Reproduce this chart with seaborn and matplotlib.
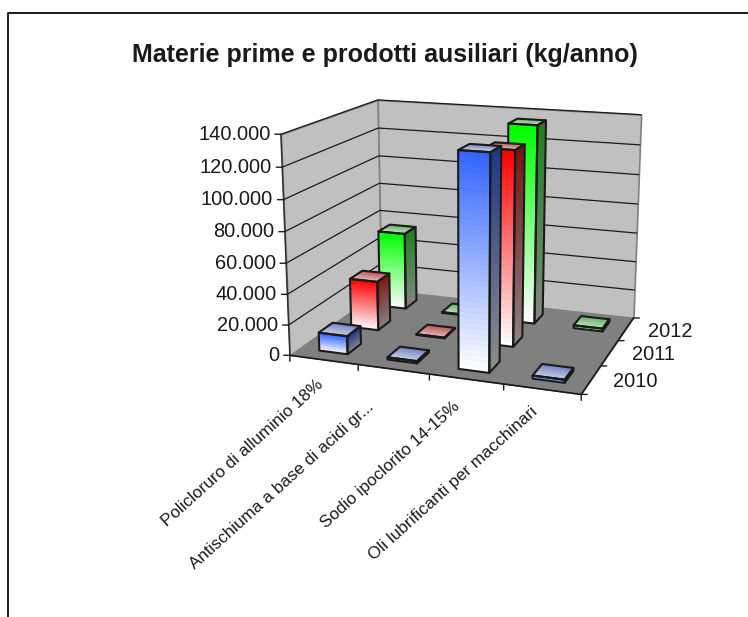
import numpy as np
import pandas as pd
import seaborn as sns
import matplotlib
matplotlib.use("Agg")
import matplotlib.pyplot as plt
from matplotlib.lines import Line2D
from mpl_toolkits.mplot3d.art3d import Poly3DCollection

categories = ["Policloruro di alluminio 18%", "Antischiuma a base di acidi gr...",
              "Sodio ipoclorito 14-15%", "Oli lubrificanti per macchinari"]
years = ["2010", "2011", "2012"]
v2010 = [12000, 1500, 135000, 2000]
v2011 = [33500, 500, 127500, 0]
v2012 = [54000, 500, 135000, 2000]
zticks = [0, 20000, 40000, 60000, 80000, 100000, 120000, 140000]
zlabels = ["0", "20.000", "40.000", "60.000", "80.000", "100.000", "120.000", "140.000"]
title = "Materie prime e prodotti ausiliari (kg/anno)"
ZMAX = 140000

sns.set_theme(style="white")
plt.rcParams["font.family"] = ["Liberation Sans", "DejaVu Sans"]

W, H = 748, 617
fig = plt.figure(figsize=(W / 100, H / 100), dpi=100)
ax = fig.add_axes([255.55 / W, 170.88 / H, 416.17 / W, 416.17 / H], projection="3d", computed_zorder=False)
ax.set_xlim(0, 4, view_margin=0)
ax.set_ylim(0, 3, view_margin=0)
ax.set_zlim(0, ZMAX, view_margin=0)
ax.view_init(elev=14.991, azim=-70.4331, roll=-0.0232)
ax.set_proj_type("persp", focal_length=float(np.exp(-0.6254)))
ax.set_box_aspect((1, 0.7608, 0.7474))
ax.set_axis_off()
ax.patch.set_visible(False)

table = pd.DataFrame({"2010": v2010, "2011": v2011, "2012": v2012}, index=categories)

# top colour of each series: front face, side face, and the two ends of the lid
series_style = {
    "2010": dict(front=("#3366FF", "#FFFFFF"), side=("#1F3A85", "#8C8C8C"), lid=("#6E80C8", "#C8CCE0")),
    "2011": dict(front=("#FF0000", "#FFFFFF"), side=("#7A1414", "#8C8080"), lid=("#C05050", "#E0B8B8")),
    "2012": dict(front=("#00FF00", "#FFFFFF"), side=("#1F7F1F", "#80887F"), lid=("#60B060", "#C0DCC0")),
}
BAR = 0.42
N = 40
CLEAR = (0, 0, 0, 0)

# pixel offsets of the slanted category labels from their slots
label_dx = [-8, -27, -14, -12]
label_dy = [-17, -30, -20, -15]


def quad(pts, **kw):
    return ax.add_collection3d(Poly3DCollection([pts], **kw), autolim=False)


def to_points(px):
    return px * 72 / fig.dpi


def anchor(x, y, z):
    M = ax.get_proj()
    h = M @ np.array([x, y, z, 1.0])
    return h[:2] / h[3]


def tick(x, y, z, dx, dy, lw=1.0):
    ax.annotate("", xy=anchor(x, y, z), xycoords="data",
                xytext=(to_points(dx), to_points(dy)), textcoords="offset points",
                arrowprops=dict(arrowstyle="-", lw=lw, color="k", shrinkA=0, shrinkB=0), zorder=4)


def label(s, x, y, z, dx, dy, **kw):
    ax.annotate(s, xy=anchor(x, y, z), xycoords="data",
                xytext=(to_points(dx), to_points(dy)), textcoords="offset points",
                color="k", annotation_clip=False, zorder=5, **kw)


def draw_bar(i, j, value, style, base):
    x0, x1 = i + 0.5 - BAR / 2, i + 0.5 + BAR / 2
    y0, y1 = j + 0.5 - BAR / 2, j + 0.5 + BAR / 2
    zs = np.linspace(0, value, N + 1)
    ys = np.linspace(y0, y1, N + 1)
    front = sns.blend_palette(style["front"], N)
    side = sns.blend_palette(style["side"], N)
    lid = sns.blend_palette(style["lid"], N)
    front_v, side_v, lid_v = [], [], []
    for k in range(N):
        # strips run from the top of the face downwards
        a, b = zs[N - k], zs[N - k - 1]
        front_v.append([(x0, y0, a), (x1, y0, a), (x1, y0, b), (x0, y0, b)])
        side_v.append([(x1, y0, a), (x1, y1, a), (x1, y1, b), (x1, y0, b)])
        c, d = ys[N - k], ys[N - k - 1]
        lid_v.append([(x0, c, value), (x1, c, value), (x1, d, value), (x0, d, value)])
    for verts, pal in ((front_v, front), (side_v, side), (lid_v, lid)):
        pc = Poly3DCollection(verts, zorder=base, linewidths=0.4, facecolors=pal, edgecolors=pal)
        ax.add_collection3d(pc, autolim=False)
    outline = Poly3DCollection(
        [[(x0, y0, value), (x1, y0, value), (x1, y0, 0), (x0, y0, 0)],
         [(x1, y0, value), (x1, y1, value), (x1, y1, 0), (x1, y0, 0)],
         [(x0, y0, value), (x1, y0, value), (x1, y1, value), (x0, y1, value)]],
        facecolors=CLEAR, edgecolors="k", linewidths=1.5, zorder=base + 0.5)
    ax.add_collection3d(outline, autolim=False)


# walls and floor
quad([(0, 0, 0), (0, 3, 0), (0, 3, ZMAX), (0, 0, ZMAX)], facecolors="#C0C0C0", edgecolors="#808080", linewidths=1.2, zorder=1)
quad([(0, 3, 0), (4, 3, 0), (4, 3, ZMAX), (0, 3, ZMAX)], facecolors="#C0C0C0", edgecolors="#808080", linewidths=1.2, zorder=1)
quad([(0, 0, 0), (4, 0, 0), (4, 3, 0), (0, 3, 0)], facecolors="#808080", edgecolors="#808080", linewidths=0.5, zorder=2)
for z in zticks[1:]:
    ax.plot([0, 0, 4], [0, 3, 3], [z, z, z], color="k", lw=0.9, zorder=3)
ax.plot([0, 0], [0, 0], [0, ZMAX], color="#303030", lw=1.1, zorder=3)
ax.plot([0, 4, 4], [0, 0, 3], [0, 0, 0], color="k", lw=1.2, zorder=3)

# bars, painted from the back row forward and left to right
base = 10
for j in range(len(years) - 1, -1, -1):
    for i, cat in enumerate(categories):
        val = table.loc[cat, years[j]]
        if val > 0:
            draw_bar(i, j, val, series_style[years[j]], base)
        base += 1

# ticks and their labels
for z, s in zip(zticks, zlabels):
    tick(0, 0, z, -6, 0)
    label(s, 0, 0, z, -10.5, 0, ha="right", va="center", fontsize=14.4)
for i in range(len(categories) + 1):
    tick(i, 0, 0, 0, -6)
for j in range(len(years) + 1):
    tick(4, j, 0, 6, 0)
for j, y in enumerate(years):
    label(y, 4, j + 0.5, 0, 22, -2, ha="left", va="center", fontsize=14.4)
for i, c in enumerate(categories):
    label(c, i + 0.5, 0, 0, label_dx[i], label_dy[i], ha="right", va="top", rotation=42,
          rotation_mode="anchor", fontsize=12.3)

fig.text(385 / W, 1 - 55 / H, title, ha="center", va="center", fontsize=18, fontweight="bold", color="k")

# chart-area frame: left and top edges only
fig.add_artist(Line2D([7.5 / W, 7.5 / W, 1], [0, 1 - 13 / H, 1 - 13 / H], color="k", lw=1.4))

fig.savefig("out.png", dpi=100)
